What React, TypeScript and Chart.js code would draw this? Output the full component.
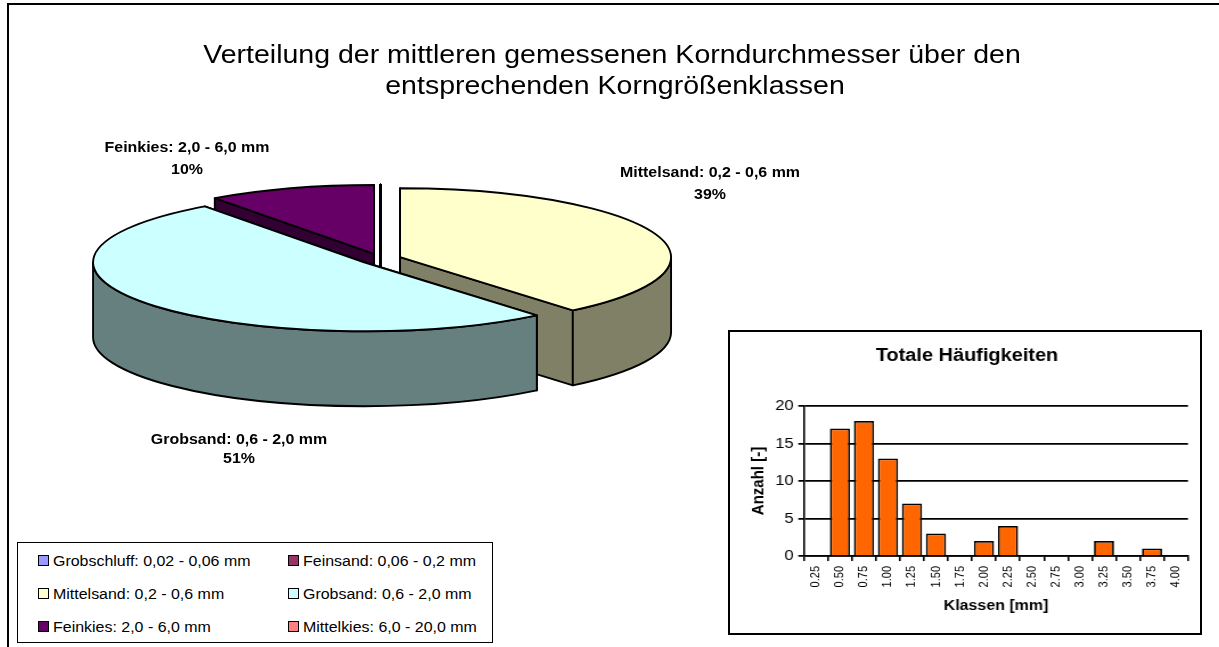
import React, { useEffect, useRef } from "react";
import { Chart, registerables } from "chart.js";

Chart.register(...registerables);

const titleLines = [
  "Verteilung der mittleren gemessenen Korndurchmesser über den",
  "entsprechenden Korngrößenklassen",
];
const grainClasses = [
  "Grobschluff: 0,02 - 0,06 mm",
  "Feinsand: 0,06 - 0,2 mm",
  "Mittelsand: 0,2 - 0,6 mm",
  "Grobsand: 0,6 - 2,0 mm",
  "Feinkies: 2,0 - 6,0 mm",
  "Mittelkies: 6,0 - 20,0 mm",
];
const grainShares = [0, 0, 39, 51, 10, 0];
const grainColors = ["#9999FF", "#993366", "#FFFFCC", "#CCFFFF", "#660066", "#FF8080"];
const grainSideColors = ["#4D4D80", "#4D1A33", "#808066", "#668080", "#330033", "#804040"];

const binLabels = [
  "0.25", "0.50", "0.75", "1.00", "1.25", "1.50", "1.75", "2.00",
  "2.25", "2.50", "2.75", "3.00", "3.25", "3.50", "3.75", "4.00",
];
const binCounts = [0, 17, 18, 13, 7, 3, 0, 2, 4, 0, 0, 0, 2, 0, 1, 0];
const FONT = '"Liberation Sans", Arial, sans-serif';

const TILT = 69 / 271;
const DEPTH = 75;
const STRETCH = 1.14; // the reference's text is wider than it is tall

const labelSpots: Record<number, [number, number, number]> = {
  2: [710, 173, 195],
  3: [239, 440, 459],
  4: [187, 148, 170],
};

const pie3d = {
  id: "pie3d",
  beforeDatasetDraw(chart: any) {
    const { ctx } = chart;
    const meta = chart.getDatasetMeta(0);
    const slices = meta.data.map((el: any, i: number) => {
      const mid = (el.startAngle + el.endAngle) / 2;
      const shift = (el.options.offset || 0) / 4;
      return {
        i,
        start: el.startAngle,
        end: el.endAngle,
        r: el.outerRadius,
        x: el.x + Math.cos(mid) * shift,
        y: el.y + Math.sin(mid) * shift * TILT,
        back: Math.sin(mid),
      };
    });
    slices.sort((a: any, b: any) => a.back - b.back);
    ctx.save();
    ctx.lineWidth = 1.9;
    ctx.strokeStyle = "#000";
    ctx.lineJoin = "round";
    for (const s of slices) {
      const ry = s.r * TILT;
      ctx.fillStyle = grainSideColors[s.i];
      for (const a of [s.start, s.end]) {
        const px = s.x + Math.cos(a) * s.r;
        const py = s.y + Math.sin(a) * ry;
        ctx.beginPath();
        ctx.moveTo(s.x, s.y);
        ctx.lineTo(px, py);
        ctx.lineTo(px, py + DEPTH);
        ctx.lineTo(s.x, s.y + DEPTH);
        ctx.closePath();
        ctx.fill();
        ctx.stroke();
      }
      const a0 = Math.max(s.start, 0);
      const a1 = Math.min(s.end, Math.PI);
      if (a1 > a0) {
        ctx.beginPath();
        ctx.ellipse(s.x, s.y, s.r, ry, 0, a0, a1);
        ctx.ellipse(s.x, s.y + DEPTH, s.r, ry, 0, a1, a0, true);
        ctx.closePath();
        ctx.fill();
        ctx.stroke();
      }
      ctx.fillStyle = grainColors[s.i];
      ctx.beginPath();
      ctx.moveTo(s.x, s.y);
      ctx.ellipse(s.x, s.y, s.r, ry, 0, s.start, s.end);
      ctx.closePath();
      ctx.fill();
      ctx.stroke();
    }
    ctx.restore();
    return false;
  },
  afterDraw(chart: any) {
    const { ctx } = chart;
    ctx.save();
    ctx.fillStyle = "#000";
    ctx.textAlign = "center";
    ctx.textBaseline = "middle";
    ctx.scale(STRETCH, 1);
    ctx.font = `25px ${FONT}`;
    ctx.fillText(titleLines[0], 612 / STRETCH, 56);
    ctx.fillText(titleLines[1], 615 / STRETCH, 87);
    ctx.font = `bold 14px ${FONT}`;
    grainShares.forEach((v, i) => {
      const spot = labelSpots[i];
      if (!spot) return;
      ctx.fillText(grainClasses[i], spot[0] / STRETCH, spot[1]);
      ctx.fillText(`${v}%`, spot[0] / STRETCH, spot[2]);
    });
    ctx.restore();
  },
};

export default function App() {
  const pieRef = useRef<HTMLCanvasElement>(null);
  const barRef = useRef<HTMLCanvasElement>(null);

  useEffect(() => {
    const pie = new Chart(pieRef.current!, {
      type: "pie",
      data: {
        labels: grainClasses,
        datasets: [{ data: grainShares, backgroundColor: grainColors, offset: 83.2, borderWidth: 0 }],
      },
      options: {
        responsive: false,
        animation: false,
        radius: 271,
        layout: { padding: { right: 458, bottom: 129 } },
        plugins: { legend: { display: false }, title: { display: false }, tooltip: { enabled: false } },
        events: [],
      } as any,
      plugins: [pie3d],
    });

    const bar = new Chart(barRef.current!, {
      type: "bar",
      data: {
        labels: binLabels,
        datasets: [
          {
            data: binCounts,
            backgroundColor: "#FF6600",
            borderColor: "#000",
            borderWidth: 1.75,
            categoryPercentage: 1,
            barPercentage: 0.84,
          },
        ],
      },
      options: {
        responsive: false,
        animation: false,
        events: [],
        layout: { padding: { left: 18 / STRETCH, right: 14 / STRETCH, top: 0, bottom: 0 } },
        plugins: {
          legend: { display: false },
          tooltip: { enabled: false },
          title: {
            display: true,
            text: "Totale Häufigkeiten",
            color: "#000",
            font: { family: FONT, size: 17.5, weight: "bold", lineHeight: 1.2 },
            padding: { top: 16, bottom: 39 },
          },
        },
        scales: {
          x: {
            afterFit: (s: any) => { s.height = 79; },
            grid: { drawOnChartArea: false, drawTicks: true, tickLength: 5, color: "#000", lineWidth: 1.6 },
            border: { color: "#000", width: 1.6 },
            ticks: {
              color: "#000",
              autoSkip: false,
              minRotation: 90,
              maxRotation: 90,
              padding: 5,
              font: { family: FONT, size: 11 },
            },
            title: {
              display: true,
              text: "Klassen [mm]",
              color: "#000",
              font: { family: FONT, size: 14, weight: "bold", lineHeight: 1.2 },
              padding: { top: 0, bottom: 20 },
            },
          },
          y: {
            min: 0,
            max: 20,
            afterFit: (s: any) => { s.width = 58 / STRETCH; },
            grid: { color: "#000", lineWidth: 1.75, tickLength: 5 },
            border: { color: "#000", width: 1.6 },
            ticks: { stepSize: 5, color: "#000", padding: 4, font: { family: FONT, size: 14.5 } },
            title: {
              display: true,
              text: "Anzahl [-]",
              color: "#000",
              font: { family: FONT, size: 15, weight: "bold", lineHeight: 1.2 },
              padding: { top: 2, bottom: 0 },
            },
          },
        },
      } as any,
    });
    return () => {
      pie.destroy();
      bar.destroy();
    };
  }, []);

  return (
    <div style={{ position: "fixed", inset: 0, background: "#fff", overflow: "hidden", fontFamily: FONT }}>
      <div style={{ position: "absolute", left: 7, top: 3, right: -5, bottom: -5, border: "2px solid #000" }} />
      <canvas ref={pieRef} width={1219} height={647} style={{ position: "absolute", left: 0, top: 0 }} />
      <div
        style={{
          position: "absolute",
          left: 17,
          top: 542,
          width: 476,
          height: 101,
          boxSizing: "border-box",
          border: "1.5px solid #000",
          background: "#fff",
          display: "grid",
          gridTemplateColumns: "250px 190px",
          gridAutoRows: "33px",
          paddingLeft: 20,
          paddingTop: 1,
          fontSize: 14,
          color: "#000",
        }}
      >
        {grainClasses.map((c, i) => (
          <div key={c} style={{ display: "flex", alignItems: "center", whiteSpace: "nowrap" }}>
            <span
              style={{
                width: 11,
                height: 11,
                boxSizing: "border-box",
                border: "1.5px solid #000",
                background: grainColors[i],
                marginRight: 4,
                flex: "none",
              }}
            />
            <span style={{ display: "inline-block", transform: `scaleX(${STRETCH})`, transformOrigin: "left center" }}>
              {c}
            </span>
          </div>
        ))}
      </div>
      <div
        style={{
          position: "absolute",
          left: 728,
          top: 330,
          width: 474,
          height: 305,
          boxSizing: "border-box",
          border: "2px solid #000",
          background: "#fff",
        }}
      />
      <canvas
        ref={barRef}
        width={Math.round(474 / STRETCH)}
        height={305}
        style={{ position: "absolute", left: 728, top: 330, width: 474, height: 305 }}
      />
    </div>
  );
}
